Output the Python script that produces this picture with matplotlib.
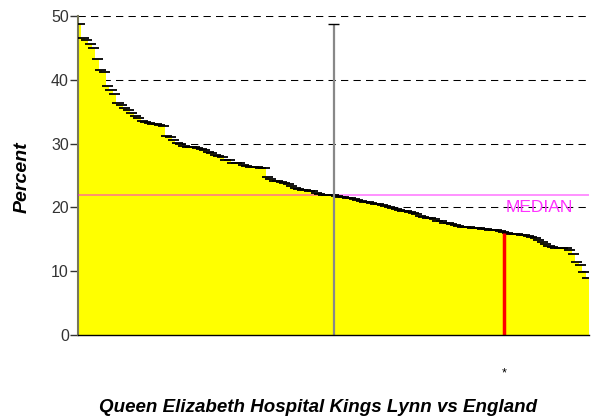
import numpy as np
import matplotlib
matplotlib.use("Agg")
from matplotlib import pyplot as plt
from matplotlib import transforms

plt.rcParams['font.family'] = ['Liberation Sans', 'DejaVu Sans']

# percent per trust, sorted high to low
percent = [
    48.7, 46.5, 46.3, 45.6, 45.0, 43.3, 41.5, 41.2, 39.0, 38.4,
    37.8, 36.4, 36.0, 35.6, 35.3, 34.8, 34.3, 34.0, 33.6, 33.4,
    33.3, 33.1, 33.0, 32.9, 32.8, 31.2, 31.0, 30.6, 30.1, 29.9,
    29.7, 29.5, 29.5, 29.4, 29.3, 29.1, 29.0, 28.7, 28.5, 28.2,
    28.0, 27.9, 27.5, 27.4, 27.0, 26.9, 26.9, 26.6, 26.5, 26.4,
    26.3, 26.3, 26.2, 26.2, 24.7, 24.4, 24.2, 24.1, 24.0, 23.8,
    23.6, 23.4, 23.1, 22.9, 22.8, 22.7, 22.6, 22.5, 22.3, 22.1,
    22.0, 22.0, 21.9, 21.9, 21.8, 21.7, 21.6, 21.5, 21.4, 21.3,
    21.2, 21.0, 20.9, 20.8, 20.7, 20.6, 20.5, 20.4, 20.2, 20.1,
    19.9, 19.8, 19.6, 19.5, 19.4, 19.3, 19.1, 18.9, 18.6, 18.5,
    18.4, 18.3, 18.2, 17.9, 17.8, 17.6, 17.5, 17.4, 17.2, 17.1,
    17.0, 16.9, 16.9, 16.8, 16.7, 16.7, 16.6, 16.6, 16.5, 16.5,
    16.4, 16.3, 16.2, 16.0, 15.9, 15.9, 15.8, 15.7, 15.6, 15.5,
    15.4, 15.2, 14.9, 14.5, 14.3, 14.0, 13.8, 13.7, 13.7, 13.6,
    13.6, 13.3, 12.7, 11.5, 10.9, 9.9, 8.9,
]
trust_index = 122          # Queen Elizabeth Hospital Kings Lynn
yticks = [0, 10, 20, 30, 40, 50]
title = 'Queen Elizabeth Hospital Kings Lynn vs England'

vals = np.array(percent)
n = len(vals)
idx = np.arange(n)
median = np.median(vals)
mid = (n - 1) // 2

fig = plt.figure(figsize=(5.96, 4.16), dpi=100)
ax = fig.add_axes([78/596, 81/416, 511/596, 319/416])

# dashed grid behind the fill
for y in yticks[1:]:
    ax.axhline(y, color='black', lw=0.75, ls=(0, (7, 5)), zorder=0)

ax.stairs(vals, np.arange(n + 1) - 0.5, fill=True, color='#ffff00',
          baseline=0, zorder=1)

# median line
ax.axhline(median, color='magenta', alpha=0.5, lw=1.2, zorder=3)
ax.text(142, median - 0.7, 'MEDIAN', color='#ff33ff', fontsize=12.5,
        ha='right', va='top', zorder=4)

# range line at the middle trust
ax.vlines(mid, 0, vals.max(), color='#888888', lw=1.6, zorder=4)
ax.hlines(vals.max(), mid - 1.7, mid + 1.7, color='black', lw=1, zorder=5)

# one tick per trust
ax.hlines(vals, idx - 1.6, idx + 1.6, color='black', lw=1.3, zorder=3)

# this trust
ax.vlines(trust_index, 0, vals[trust_index] - 0.2, color='red', lw=2.5, zorder=5)
tr = transforms.blended_transform_factory(ax.transData, fig.transFigure)
ax.text(trust_index, 1 - 373/416, '*', transform=tr, ha='center', va='center',
        fontsize=9)

ax.set_xlim(-0.5, n - 0.5)
ax.set_ylim(0, 50)
ax.set_xticks([])
ax.set_yticks(yticks)
ax.tick_params(axis='y', length=6, width=1, pad=0.5, labelsize=11.5,
               labelcolor='#333333', colors='#333333')
for s in ['top', 'right']:
    ax.spines[s].set_visible(False)
ax.spines['left'].set_color('#77775a')
ax.spines['left'].set_linewidth(1.5)
ax.spines['bottom'].set_color('black')
ax.spines['bottom'].set_linewidth(1)
ax.spines['bottom'].set_zorder(6)

fig.text(22/596, 1 - 177/416, 'Percent', rotation=90, ha='center', va='center',
         fontsize=14, fontweight='bold', fontstyle='italic')
fig.text(318/596, 1 - 407/416, title, ha='center', va='center',
         fontsize=13.5, fontweight='bold', fontstyle='italic')

fig.savefig('out.png', dpi=100)
